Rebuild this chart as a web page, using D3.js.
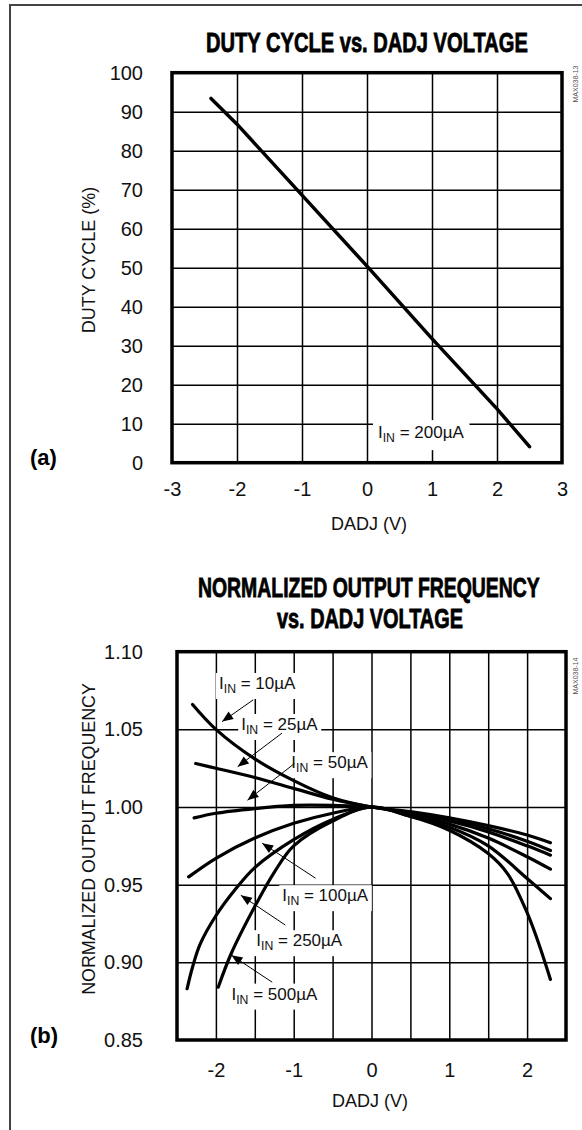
<!DOCTYPE html>
<html><head><meta charset="utf-8">
<script src="https://cdn.jsdelivr.net/npm/d3@7"></script>
<style>body{margin:0;background:#fff}svg{display:block}</style>
</head><body>
<svg id="c" width="582" height="1130"></svg>
<script>
// ---------- data: chart (a) ----------
const dadjA = [-2.4, -2, -1, 0, 1, 2, 2.5];
const dutyA = [93.4, 86.8, 68.6, 50.4, 31.8, 13.8, 4.1];
const xTicksA = [-3, -2, -1, 0, 1, 2, 3];
const yTicksA = [0, 10, 20, 30, 40, 50, 60, 70, 80, 90, 100];

// ---------- data: chart (b) ----------
const xTicksB = [-2, -1, 0, 1, 2];
const xGridB = [-2, -1.5, -1, -0.5, 0, 0.5, 1, 1.5, 2];
const yTicksB = [0.85, 0.90, 0.95, 1.00, 1.05, 1.10];
const currents = ["10µA", "25µA", "50µA", "100µA", "250µA", "500µA"];
const v10  = [-2.3, -2, -1.5, -1, -0.5, 0, 0.5, 1, 1.5, 2, 2.3];
const f10  = [1.066, 1.050, 1.031, 1.017, 1.006, 1.000, 0.997, 0.993, 0.988, 0.982, 0.977];
const v25  = [-2.26, -2, -1.5, -1, -0.5, 0, 0.5, 1, 1.5, 2, 2.3];
const f25  = [1.028, 1.025, 1.019, 1.012, 1.005, 1.000, 0.996, 0.992, 0.986, 0.978, 0.972];
const v50  = [-2.28, -2, -1.5, -1, -0.5, 0, 0.5, 1, 1.5, 2, 2.3];
const f50  = [0.993, 0.996, 0.999, 1.001, 1.001, 1.000, 0.996, 0.991, 0.984, 0.975, 0.969];
const v100 = [-2.35, -2, -1.5, -1, -0.5, 0, 0.5, 1, 1.5, 2, 2.3];
const f100 = [0.955, 0.967, 0.980, 0.9895, 0.996, 1.000, 0.995, 0.989, 0.980, 0.968, 0.960];
const v250 = [-2.37, -2.3, -2.2, -2, -1.75, -1.5, -1, -0.5, 0, 0.5, 1, 1.5, 2, 2.3];
const f250 = [0.883, 0.897, 0.912, 0.930, 0.947, 0.961, 0.979, 0.992, 1.000, 0.994, 0.987, 0.975, 0.954, 0.941];
const v500 = [-1.97, -1.8, -1.5, -1.25, -1, -0.5, 0, 0.5, 1, 1.5, 1.75, 2, 2.15, 2.3];
const f500 = [0.884, 0.906, 0.936, 0.958, 0.975, 0.991, 1.000, 0.994, 0.985, 0.970, 0.957, 0.932, 0.912, 0.889];
// annotation anchors (data units): text position, arrow tip, leader end
const annTextV = [-1.96, -1.675, -1.03, -1.147, -1.48, -1.80];
const annTextF = [1.076, 1.0496, 1.025, 0.9394, 0.9104, 0.876];
const annTipV  = [-1.92, -1.72, -1.594, -1.405, -1.68, -1.80];
const annTipF  = [1.055, 1.026, 1.0044, 0.9767, 0.9432, 0.9046];
const annEndV  = [-1.52, -1.15, -0.99, -0.72, -1.108, -1.276];
const annEndF  = [1.069, 1.0476, 1.028, 0.9542, 0.924, 0.8872];

const FONT = "'Liberation Sans', Arial, Helvetica, sans-serif";
const svg = d3.select("#c");

// outer frame
svg.append("path").attr("d", "M582,5H10V1130").attr("fill", "none")
  .attr("stroke", "#444").attr("stroke-width", 2);

// text squeezed horizontally to a target width (x = left edge, or centre if rotated)
function squeezed(x, y, str, opts) {
  const g = svg.append("g").attr("transform", `translate(${x},${y})` + (opts.rotate ? ` rotate(${opts.rotate})` : ""));
  const t = g.append("text").attr("font-family", FONT).attr("font-size", opts.size)
    .attr("font-weight", opts.bold ? "bold" : "normal").attr("fill", opts.fill || "#111")
    .attr("text-anchor", opts.anchor || "start").text(str);
  if (opts.bold) t.attr("stroke", "#000").attr("stroke-width", 0.8);
  const w = t.node().getComputedTextLength();
  t.attr("transform", `scale(${opts.width / w},1)`);
  return t;
}

function inText(g, x, y, label, size) {
  const t = g.append("text").attr("x", x).attr("y", y)
    .attr("font-family", FONT).attr("font-size", size).attr("fill", "#111");
  t.append("tspan").text("I");
  t.append("tspan").attr("dy", 4).attr("font-size", size * 0.72).text("IN");
  t.append("tspan").attr("dy", -4).text(" = " + label);
  return t;
}

function bgBox(g, t, pad) {
  const b = t.node().getBBox();
  g.insert("rect", () => t.node()).attr("x", b.x - pad).attr("y", b.y - pad + 2)
    .attr("width", b.width + 2 * pad).attr("height", b.height + 2 * pad - 2).attr("fill", "#fff");
}

function styleAxis(g) {
  g.select(".domain").remove();
  g.selectAll("text").attr("font-family", FONT).attr("font-size", 20).attr("fill", "#111");
}
const plain = d => String(d);

// ================= chart (a) =================
const xA = d3.scaleLinear([-3, 3], [172, 562]);
const yA = d3.scaleLinear([0, 100], [462.7, 72.7]);
const gA = svg.append("g");

gA.append("g").attr("transform", `translate(0,${yA(0)})`)
  .call(d3.axisBottom(xA).tickValues(xTicksA.slice(1, -1)).tickSize(-(yA(0) - yA(100))).tickFormat(""))
  .call(g => { g.select(".domain").remove(); g.selectAll("line").attr("stroke", "#000").attr("stroke-width", 1.5); });
gA.append("g").attr("transform", `translate(${xA(-3)},0)`)
  .call(d3.axisLeft(yA).tickValues(yTicksA.slice(1, -1)).tickSize(-(xA(3) - xA(-3))).tickFormat(""))
  .call(g => { g.select(".domain").remove(); g.selectAll("line").attr("stroke", "#000").attr("stroke-width", 1.5); });

const annA = gA.append("g");
const tA = inText(annA, xA(0.169), yA(6.3), "200µA", 17);
bgBox(annA, tA, 5);

gA.append("path").datum(dadjA.map((v, i) => [v, dutyA[i]]))
  .attr("d", d3.line().x(d => xA(d[0])).y(d => yA(d[1])))
  .attr("fill", "none").attr("stroke", "#000").attr("stroke-width", 3.5).attr("stroke-linecap", "round");

gA.append("rect").attr("x", xA(-3)).attr("y", yA(100)).attr("width", xA(3) - xA(-3)).attr("height", yA(0) - yA(100))
  .attr("fill", "none").attr("stroke", "#000").attr("stroke-width", 3.5);

gA.append("g").attr("transform", `translate(${xA(-3)},0)`)
  .call(d3.axisLeft(yA).tickValues(yTicksA).tickSize(0).tickPadding(29).tickFormat(plain)).call(styleAxis);
gA.append("g").attr("transform", `translate(0,${yA(0)})`)
  .call(d3.axisBottom(xA).tickValues(xTicksA).tickSize(0).tickPadding(19).tickFormat(plain)).call(styleAxis);

squeezed(206, 51.7, "DUTY CYCLE vs. DADJ VOLTAGE", { size: 27, bold: true, width: 322, fill: "#000" });
svg.append("text").attr("x", 369).attr("y", 530).attr("text-anchor", "middle")
  .attr("font-family", FONT).attr("font-size", 18).attr("fill", "#111").text("DADJ (V)");
svg.append("text").attr("transform", "translate(95,260) rotate(-90)").attr("text-anchor", "middle")
  .attr("font-family", FONT).attr("font-size", 18).attr("fill", "#111").text("DUTY CYCLE (%)");
svg.append("text").attr("x", 30).attr("y", 465).attr("font-family", FONT).attr("font-weight", "bold")
  .attr("font-size", 22).attr("fill", "#000").text("(a)");
svg.append("text").attr("transform", "translate(578,84) rotate(-90)").attr("text-anchor", "middle")
  .attr("font-family", FONT).attr("font-size", 7).attr("fill", "#555").text("MAX038-13");

// ================= chart (b) =================
const xB = d3.scaleLinear([-2.5, 2.5], [177, 566]);
const yB = d3.scaleLinear([0.85, 1.10], [1040, 651.7]);
const gB = svg.append("g");

gB.append("g").attr("transform", `translate(0,${yB(0.85)})`)
  .call(d3.axisBottom(xB).tickValues(xGridB).tickSize(-(yB(0.85) - yB(1.10))).tickFormat(""))
  .call(g => { g.select(".domain").remove(); g.selectAll("line").attr("stroke", "#000").attr("stroke-width", 1.5); });
gB.append("g").attr("transform", `translate(${xB(-2.5)},0)`)
  .call(d3.axisLeft(yB).tickValues(yTicksB.slice(1, -1)).tickSize(-(xB(2.5) - xB(-2.5))).tickFormat(""))
  .call(g => { g.select(".domain").remove(); g.selectAll("line").attr("stroke", "#000").attr("stroke-width", 1.5); });

const annB = gB.append("g");
currents.forEach((c, i) => {
  const t = inText(annB, xB(annTextV[i]), yB(annTextF[i]), c, 17);
  bgBox(annB, t, 3);
});

const seriesV = [v10, v25, v50, v100, v250, v500];
const seriesF = [f10, f25, f50, f100, f250, f500];
const lineB = d3.line().x(d => xB(d[0])).y(d => yB(d[1])).curve(d3.curveCatmullRom.alpha(0.5));
seriesV.forEach((vs, k) => {
  gB.append("path").datum(vs.map((v, i) => [v, seriesF[k][i]]))
    .attr("d", lineB).attr("fill", "none").attr("stroke", "#000")
    .attr("stroke-width", 3.2).attr("stroke-linecap", "round");
});

currents.forEach((c, i) => {
  const x1 = xB(annTipV[i]), y1 = yB(annTipF[i]);
  const x2 = xB(annEndV[i]), y2 = yB(annEndF[i]);
  gB.append("line").attr("x1", x1).attr("y1", y1).attr("x2", x2).attr("y2", y2)
    .attr("stroke", "#000").attr("stroke-width", 1);
  const a = Math.atan2(y2 - y1, x2 - x1);
  const L = 11, W = 4.5;
  const bx = x1 + L * Math.cos(a), by = y1 + L * Math.sin(a);
  const px = -Math.sin(a) * W, py = Math.cos(a) * W;
  gB.append("path").attr("d", `M${x1},${y1}L${bx + px},${by + py}L${bx - px},${by - py}Z`).attr("fill", "#000");
});

gB.append("rect").attr("x", xB(-2.5)).attr("y", yB(1.10)).attr("width", xB(2.5) - xB(-2.5)).attr("height", yB(0.85) - yB(1.10))
  .attr("fill", "none").attr("stroke", "#000").attr("stroke-width", 3.5);

gB.append("g").attr("transform", `translate(${xB(-2.5)},0)`)
  .call(d3.axisLeft(yB).tickValues(yTicksB).tickSize(0).tickPadding(34).tickFormat(d3.format(".2f"))).call(styleAxis);
gB.append("g").attr("transform", `translate(0,${yB(0.85)})`)
  .call(d3.axisBottom(xB).tickValues(xTicksB).tickSize(0).tickPadding(22.5).tickFormat(plain)).call(styleAxis);

squeezed(198, 597, "NORMALIZED OUTPUT FREQUENCY", { size: 27, bold: true, width: 342, fill: "#000" });
squeezed(277, 628, "vs. DADJ VOLTAGE", { size: 27, bold: true, width: 186, fill: "#000" });
svg.append("text").attr("x", 370).attr("y", 1107).attr("text-anchor", "middle")
  .attr("font-family", FONT).attr("font-size", 18).attr("fill", "#111").text("DADJ (V)");
squeezed(95, 839, "NORMALIZED OUTPUT FREQUENCY", { size: 18, width: 312, rotate: -90, anchor: "middle" });
svg.append("text").attr("x", 30).attr("y", 1043).attr("font-family", FONT).attr("font-weight", "bold")
  .attr("font-size", 22).attr("fill", "#000").text("(b)");
svg.append("text").attr("transform", "translate(578,676) rotate(-90)").attr("text-anchor", "middle")
  .attr("font-family", FONT).attr("font-size", 7).attr("fill", "#555").text("MAX038-14");
</script>
</body></html>
